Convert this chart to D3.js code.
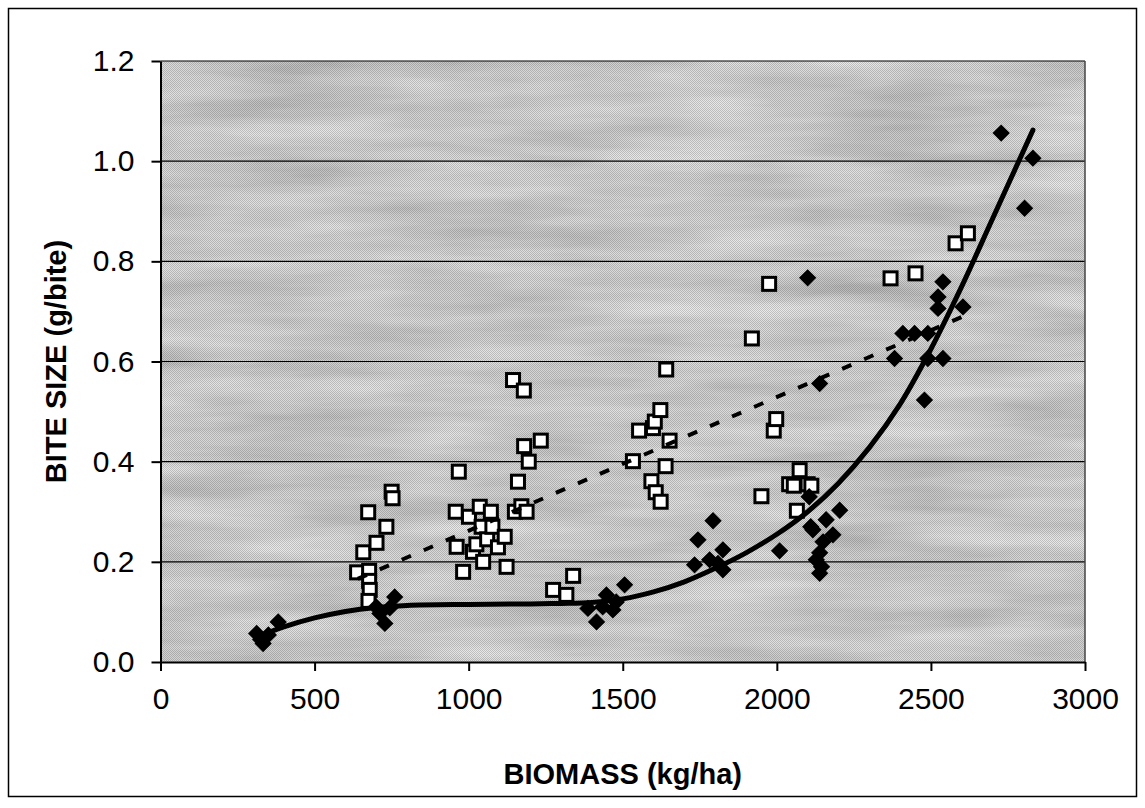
<!DOCTYPE html>
<html>
<head>
<meta charset="utf-8">
<script src="https://cdn.jsdelivr.net/npm/d3@7"></script>
<style>
  html, body { margin: 0; padding: 0; background: #fff; }
  svg { display: block; }
  text { font-family: "Liberation Sans", Arial, sans-serif; fill: #000; }
</style>
</head>
<body>
<svg id="chart" width="1145" height="808"></svg>
<script>
// grazed biomass vs bite size, filled diamonds
const diamondX = [312, 325, 333, 350, 382, 700, 712, 728, 744, 760,
  1387, 1415, 1435, 1447, 1468, 1479, 1506,
  1733, 1744, 1782, 1793, 1809, 1825, 1825, 2009,
  2100, 2105, 2110, 2117, 2128, 2139, 2139, 2145, 2150, 2160, 2182, 2204, 2139,
  2382, 2409, 2447, 2479, 2490, 2490, 2523, 2523, 2539, 2539, 2604,
  2728, 2804, 2831]
const diamondY = [0.057, 0.045, 0.037, 0.054, 0.080, 0.110, 0.097, 0.077, 0.108, 0.130,
  0.107, 0.080, 0.110, 0.134, 0.104, 0.120, 0.154,
  0.194, 0.244, 0.204, 0.282, 0.197, 0.224, 0.184, 0.222,
  0.767, 0.330, 0.270, 0.264, 0.204, 0.177, 0.218, 0.190, 0.240, 0.284, 0.254, 0.303, 0.556,
  0.606, 0.656, 0.656, 0.523, 0.606, 0.656, 0.706, 0.729, 0.759, 0.606, 0.709,
  1.056, 0.906, 1.006]

// open squares
const squareX = [638, 658, 674, 677, 677, 679, 675, 701, 733, 750, 753,
  958, 968, 961, 982, 1001, 1014, 1025, 1036, 1042, 1047, 1060, 1072, 1077, 1095, 1117, 1123,
  1144, 1150, 1160, 1171, 1179, 1180, 1188, 1195, 1234, 1274, 1317, 1339,
  1533, 1553, 1593, 1598, 1604, 1607, 1622, 1623, 1639, 1641, 1652,
  1919, 1950, 1975, 1990, 1998, 2040, 2055, 2065, 2074, 2100, 2112,
  2369, 2450, 2580, 2620]
const squareY = [0.179, 0.219, 0.299, 0.182, 0.162, 0.144, 0.122, 0.238, 0.270, 0.340, 0.327,
  0.300, 0.380, 0.230, 0.180, 0.290, 0.220, 0.235, 0.310, 0.270, 0.200, 0.245, 0.300, 0.270, 0.229, 0.250, 0.190,
  0.563, 0.300, 0.360, 0.311, 0.542, 0.431, 0.300, 0.400, 0.442, 0.144, 0.134, 0.172,
  0.401, 0.462, 0.361, 0.467, 0.480, 0.339, 0.503, 0.320, 0.391, 0.584, 0.442,
  0.646, 0.331, 0.755, 0.462, 0.485, 0.355, 0.352, 0.302, 0.383, 0.355, 0.352,
  0.766, 0.776, 0.836, 0.856]

// trendlines
const solidTrendX = [315, 400, 500, 600, 700, 800, 1000, 1200, 1300, 1400, 1500, 1600, 1700, 1800, 1900, 2000, 2100, 2200, 2300, 2400, 2500, 2600, 2700, 2831]
const solidTrendY = [0.050, 0.070, 0.088, 0.101, 0.109, 0.113, 0.115, 0.116, 0.117, 0.119, 0.126, 0.140, 0.160, 0.187, 0.218, 0.255, 0.300, 0.357, 0.428, 0.515, 0.625, 0.750, 0.885, 1.062]
const dashTrendX = [640, 2600]
const dashTrendY = [0.166, 0.689]

const xTicks = [0, 500, 1000, 1500, 2000, 2500, 3000]
const yTicks = [0, 0.2, 0.4, 0.6, 0.8, 1.0, 1.2]
const xTitle = 'BIOMASS (kg/ha)'
const yTitle = 'BITE SIZE (g/bite)'

const svg = d3.select('#chart')
const plot = { left: 160.5, right: 1085, top: 61, bottom: 662 }

const x = d3.scaleLinear().domain([0, 3000]).range([plot.left, plot.right])
const y = d3.scaleLinear().domain([0, 1.2]).range([plot.bottom, plot.top])

// outer frame
svg.append('rect')
  .attr('x', 8.5).attr('y', 8.5)
  .attr('width', 1128).attr('height', 788)
  .attr('fill', 'none').attr('stroke', '#000').attr('stroke-width', 1.5)

// mottled grey plot background (like the scanned original)
const defs = svg.append('defs')
const f = defs.append('filter').attr('id', 'mottle')
  .attr('x', 0).attr('y', 0).attr('width', 1).attr('height', 1)
f.append('feTurbulence').attr('type', 'fractalNoise')
  .attr('baseFrequency', '0.005 0.04').attr('numOctaves', 4).attr('seed', 7)
f.append('feColorMatrix').attr('type', 'saturate').attr('values', 0)
const ct = f.append('feComponentTransfer')
ct.append('feFuncR').attr('type', 'linear').attr('slope', 0.6).attr('intercept', 0.38)
ct.append('feFuncG').attr('type', 'linear').attr('slope', 0.6).attr('intercept', 0.38)
ct.append('feFuncB').attr('type', 'linear').attr('slope', 0.6).attr('intercept', 0.38)
ct.append('feFuncA').attr('type', 'linear').attr('slope', 0).attr('intercept', 1)

// fine checker to mimic the halftone dithering
const pat = defs.append('pattern').attr('id', 'dither')
  .attr('width', 2).attr('height', 2).attr('patternUnits', 'userSpaceOnUse')
pat.append('rect').attr('width', 1).attr('height', 1).attr('fill', 'rgba(0,0,0,0.18)')
pat.append('rect').attr('x', 1).attr('y', 1).attr('width', 1).attr('height', 1).attr('fill', 'rgba(0,0,0,0.18)')

const bgW = plot.right - plot.left
const bgH = plot.bottom - plot.top
svg.append('rect')
  .attr('x', plot.left).attr('y', plot.top)
  .attr('width', bgW).attr('height', bgH)
  .attr('fill', '#ababab')
svg.append('rect')
  .attr('x', plot.left).attr('y', plot.top)
  .attr('width', bgW).attr('height', bgH)
  .attr('filter', 'url(#mottle)')
svg.append('rect')
  .attr('x', plot.left).attr('y', plot.top)
  .attr('width', bgW).attr('height', bgH)
  .attr('fill', 'url(#dither)')

// gridlines
svg.append('g')
  .selectAll('line')
  .data(yTicks.slice(1))
  .join('line')
  .attr('x1', plot.left).attr('x2', plot.right)
  .attr('y1', d => y(d)).attr('y2', d => y(d))
  .attr('stroke', '#000').attr('stroke-width', 1.2)

// right edge of plot
svg.append('line')
  .attr('x1', plot.right).attr('x2', plot.right)
  .attr('y1', plot.top).attr('y2', plot.bottom)
  .attr('stroke', '#444').attr('stroke-width', 1.5)

// axes
const xAxis = d3.axisBottom(x).tickValues(xTicks).tickFormat(d3.format('d'))
  .tickSizeInner(9).tickSizeOuter(0).tickPadding(17)
const yAxis = d3.axisLeft(y).tickValues(yTicks).tickFormat(d3.format('.1f'))
  .tickSizeInner(9).tickSizeOuter(0).tickPadding(17)

const gx = svg.append('g').attr('transform', `translate(0,${plot.bottom})`).call(xAxis)
const gy = svg.append('g').attr('transform', `translate(${plot.left},0)`).call(yAxis)
;[gx, gy].forEach(g => {
  g.selectAll('path, line').attr('stroke', '#000').attr('stroke-width', 2)
  g.selectAll('text').attr('font-size', 30).attr('fill', '#000')
    .attr('font-family', '"Liberation Sans", Arial, sans-serif')
})

// axis titles
svg.append('text')
  .attr('x', (plot.left + plot.right) / 2)
  .attr('y', 784)
  .attr('text-anchor', 'middle')
  .attr('font-size', 29).attr('font-weight', 'bold')
  .text(xTitle)
svg.append('text')
  .attr('transform', `translate(66,${(plot.top + plot.bottom) / 2}) rotate(-90)`)
  .attr('text-anchor', 'middle')
  .attr('font-size', 29).attr('font-weight', 'bold')
  .text(yTitle)

// open squares
const squares = squareX.map((v, i) => ({ x: v, y: squareY[i] }))
svg.append('g')
  .selectAll('rect')
  .data(squares)
  .join('rect')
  .attr('x', d => x(d.x) - 6.5).attr('y', d => y(d.y) - 6.5)
  .attr('width', 13).attr('height', 13)
  .attr('fill', '#fff').attr('stroke', '#000').attr('stroke-width', 3)

// filled diamonds
const diamonds = diamondX.map((v, i) => ({ x: v, y: diamondY[i] }))
const diamondPath = d3.symbol(d3.symbolSquare, 150)
svg.append('g')
  .selectAll('path')
  .data(diamonds)
  .join('path')
  .attr('d', diamondPath)
  .attr('transform', d => `translate(${x(d.x)},${y(d.y)}) rotate(45)`)
  .attr('fill', '#000')

// dashed linear trend for the squares
const line = d3.line().x(d => x(d.x)).y(d => y(d.y))
svg.append('path')
  .datum(dashTrendX.map((v, i) => ({ x: v, y: dashTrendY[i] })))
  .attr('d', line)
  .attr('fill', 'none').attr('stroke', '#000')
  .attr('stroke-width', 4).attr('stroke-dasharray', '10,14')

// solid polynomial trend for the diamonds
svg.append('path')
  .datum(solidTrendX.map((v, i) => ({ x: v, y: solidTrendY[i] })))
  .attr('d', line.curve(d3.curveCatmullRom))
  .attr('fill', 'none').attr('stroke', '#000')
  .attr('stroke-width', 5).attr('stroke-linecap', 'round')
</script>
</body>
</html>
